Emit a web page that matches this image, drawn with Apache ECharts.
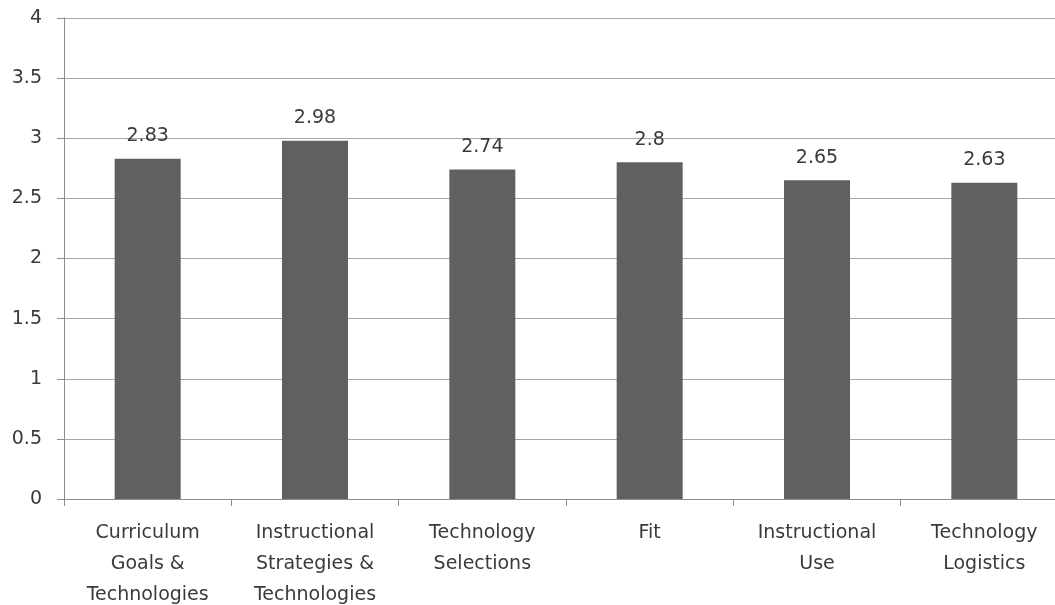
<!DOCTYPE html>
<html>
<head>
<meta charset="utf-8">
<script src="https://cdn.jsdelivr.net/npm/echarts@6/dist/echarts.min.js"></script>
<style>html,body{margin:0;padding:0;background:#fff;overflow:hidden;}#c{width:1055px;height:605px;}</style>
</head>
<body>
<div id="c"></div>
<script>
const categories = ["Curriculum\nGoals &\nTechnologies", "Instructional\nStrategies &\nTechnologies", "Technology\nSelections", "Fit", "Instructional\nUse", "Technology\nLogistics"];
const values = [2.83, 2.98, 2.74, 2.8, 2.65, 2.63];
const yTicks = {min: 0, max: 4, interval: 0.5};

const chart = echarts.init(document.getElementById('c'));
const font = '"DejaVu Sans", sans-serif';
chart.setOption({
  animation: false,
  grid: {left: 64, top: 18, width: 1004, height: 481, containLabel: false, outerBoundsMode: 'none'},
  xAxis: {
    type: 'category',
    data: categories,
    axisLine: {lineStyle: {color: '#8c8c8c', width: 1}},
    axisTick: {show: true, length: 7, alignWithLabel: false, lineStyle: {color: '#8c8c8c'}},
    axisLabel: {color: '#3a3a3a', fontFamily: font, fontSize: 19, lineHeight: 31, margin: 19, interval: 0}
  },
  yAxis: {
    type: 'value',
    min: yTicks.min, max: yTicks.max, interval: yTicks.interval,
    axisLine: {show: true, lineStyle: {color: '#8c8c8c'}},
    axisTick: {show: true, length: 7, lineStyle: {color: '#8c8c8c'}},
    splitLine: {lineStyle: {color: '#a6a6a6', width: 1}},
    axisLabel: {color: '#3a3a3a', fontFamily: font, fontSize: 19, margin: 22,
      formatter: v => String(v)}
  },
  series: [{
    type: 'bar',
    data: values,
    barWidth: 66,
    itemStyle: {color: '#606060'},
    label: {show: true, position: 'top', distance: 13, color: '#3a3a3a', fontFamily: font, fontSize: 19}
  }]
});
</script>
</body>
</html>
